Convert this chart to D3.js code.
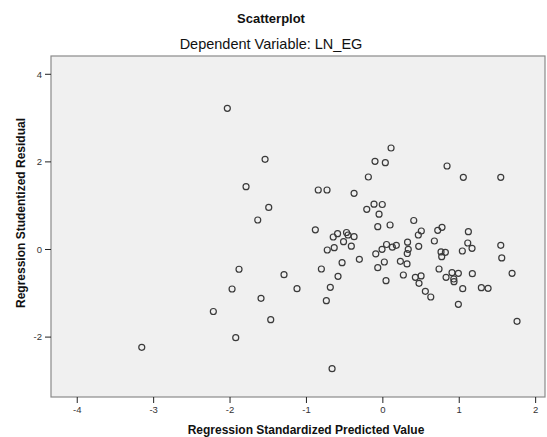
<!DOCTYPE html>
<html><head><meta charset="utf-8">
<script src="https://cdn.jsdelivr.net/npm/d3@7"></script>
<style>
html,body{margin:0;padding:0;background:#fff;}
svg{display:block;font-family:"Liberation Sans",Arial,sans-serif;}
</style></head>
<body><svg id="c" width="547" height="437"></svg>
<script>
const title = "Scatterplot";
const subtitle = "Dependent Variable: LN_EG";
const xTitle = "Regression Standardized Predicted Value";
const yTitle = "Regression Studentized Residual";
const xTicks = [-4, -3, -2, -1, 0, 1, 2];
const yTicks = [-2, 0, 2, 4];

// Regression Standardized Predicted Value
const predicted = [
 -3.149,-2.212,-2.029,-1.535,-1.784,-1.487,-1.631,-0.839,-0.724,-0.370,
 -0.096,-0.183,-0.204,-0.109,-0.043,-0.001, 0.114, 0.039, 0.847, 1.060,
  1.550, 0.411,-0.877,-0.643,-0.586,-0.469,-0.449,-0.370,-0.508,-0.406,
 -0.630,-0.721,-0.527,-0.301,-0.798,-0.580,-0.681,-0.733,-1.876,-1.967,
 -1.588,-1.287,-1.117,-1.461,-1.919,-0.658,-0.060,-0.086,-0.060, 0.101,
  0.510, 0.471, 0.725, 0.781, 1.126, 0.681, 1.118, 1.174, 1.047, 1.550,
  1.563, 1.698, 1.763,-0.004, 0.055, 0.131, 0.183, 0.330, 0.339, 0.326,
  0.476, 0.768, 0.825, 0.777, 0.026, 0.236, 0.323, 0.048, 0.275, 0.432,
  0.507, 0.480, 0.563, 0.634, 0.742, 0.834, 0.912, 0.995, 0.935, 0.938,
  1.178, 1.052, 1.296, 1.384, 0.995
];
// Regression Studentized Residual
const residual = [
 -2.245,-1.427, 3.212, 2.048, 1.422, 0.950, 0.662, 1.347, 1.347, 1.272,
  2.002, 1.644, 0.906, 1.023, 0.795, 1.016, 2.306, 1.970, 1.895, 1.637,
  1.637, 0.651, 0.438, 0.274, 0.349, 0.377, 0.320, 0.281, 0.167, 0.064,
  0.030,-0.023,-0.313,-0.235,-0.457,-0.623,-0.874,-1.180,-0.463,-0.913,
 -1.126,-0.587,-0.906,-1.614,-2.025,-2.733, 0.509,-0.110,-0.427, 0.548,
  0.411, 0.320, 0.427, 0.495, 0.395, 0.183, 0.137, 0.016,-0.046, 0.084,
 -0.205,-0.555,-1.651,-0.007, 0.103, 0.041, 0.084, 0.155,-0.007,-0.103,
  0.062,-0.068,-0.075,-0.176,-0.297,-0.281,-0.342,-0.724,-0.594,-0.646,
 -0.616,-0.783,-0.966,-1.096,-0.457,-0.646,-0.541,-0.555,-0.685,-0.747,
 -0.564,-0.906,-0.884,-0.897,-1.263
];

const svg = d3.select("#c");
const L = 51, R = 545, T = 56, B = 397;
const x = d3.scaleLinear().domain([-4.337, 2.129]).range([L, R]);
const y = d3.scaleLinear().domain([-3.379, 4.406]).range([B, T]);

svg.append("rect").attr("x", L).attr("y", T).attr("width", R - L).attr("height", B - T)
  .attr("fill", "#f0f0f0").attr("stroke", "#8a8a8a").attr("stroke-width", 1.2);

const fmt = d => String(d);
const xAxis = svg.append("g").attr("transform", `translate(0,${B})`)
  .call(d3.axisBottom(x).tickValues(xTicks).tickSize(6).tickPadding(3).tickFormat(fmt));
const yAxis = svg.append("g").attr("transform", `translate(${L},0)`)
  .call(d3.axisLeft(y).tickValues(yTicks).tickSize(6).tickPadding(3).tickFormat(fmt));
[xAxis, yAxis].forEach(g => {
  g.select(".domain").remove();
  g.selectAll(".tick line").attr("stroke", "#222").attr("stroke-width", 1);
  g.selectAll(".tick text").attr("fill", "#333").style("font-size", "9.5px")
    .style("font-family", "'Liberation Sans',Arial,sans-serif");
});
yAxis.selectAll(".tick text").attr("dy", "0.35em");

const pts = predicted.map((p, i) => ({p, r: residual[i]}));
svg.append("g").selectAll("circle").data(pts).join("circle")
  .attr("cx", d => x(d.p)).attr("cy", d => y(d.r)).attr("r", 3)
  .attr("fill", "none").attr("stroke", "#3a3a3a").attr("stroke-width", 1.2);

svg.append("text").attr("x", 271).attr("y", 23).attr("text-anchor", "middle")
  .style("font-size", "13px").style("font-weight", "bold").attr("fill", "#111").text(title);
svg.append("text").attr("x", 271).attr("y", 49).attr("text-anchor", "middle")
  .style("font-size", "14.5px").attr("fill", "#111").text(subtitle);
svg.append("text").attr("x", 306).attr("y", 434).attr("text-anchor", "middle")
  .style("font-size", "12px").style("font-weight", "bold").attr("fill", "#111").text(xTitle);
svg.append("text").attr("transform", "translate(25,213) rotate(-90)").attr("text-anchor", "middle")
  .style("font-size", "12px").style("font-weight", "bold").attr("fill", "#111").text(yTitle);
</script></body></html>
